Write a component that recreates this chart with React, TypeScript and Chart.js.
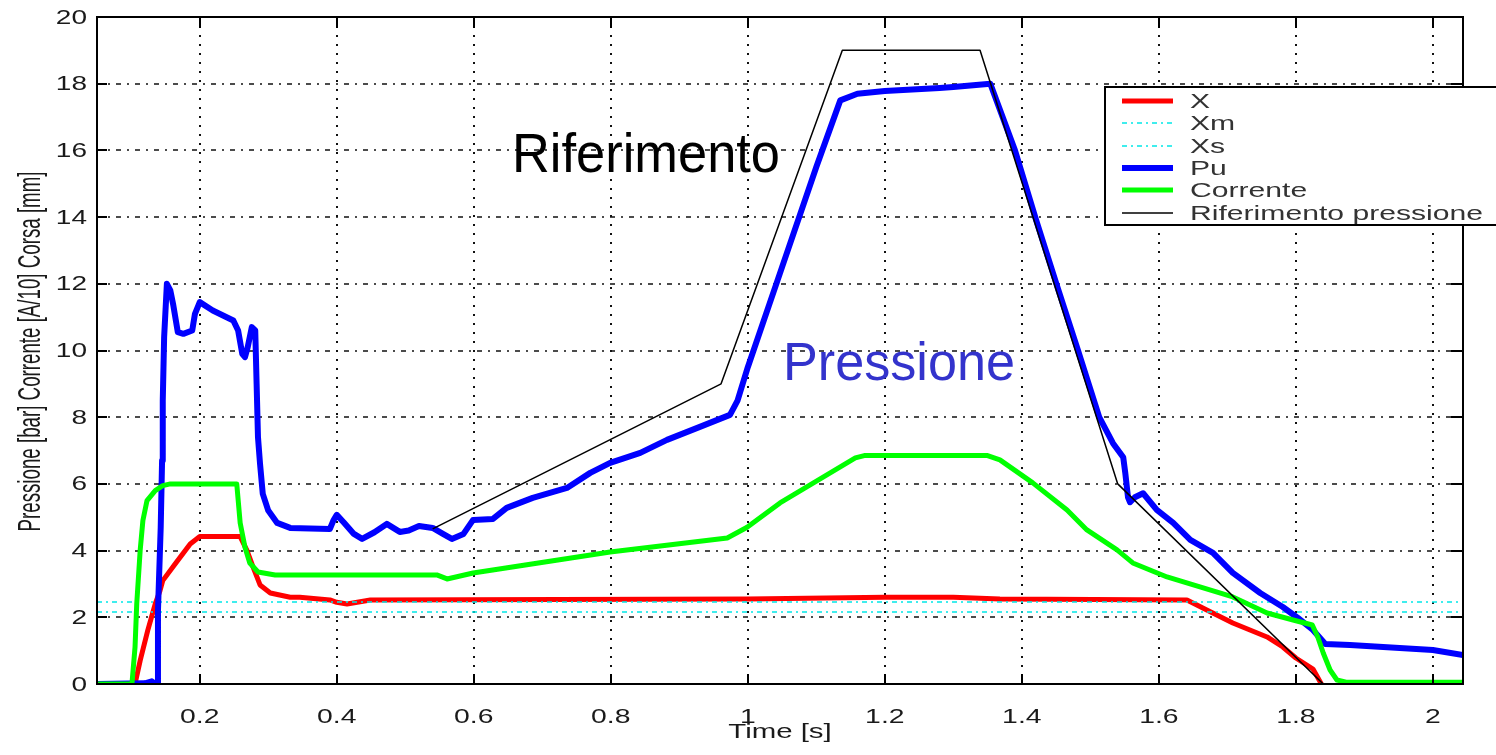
import React, { useEffect, useRef } from 'react';
import { Chart, registerables } from 'chart.js';

Chart.register(...registerables);

const FONT = '"Liberation Sans", Arial, Helvetica, sans-serif';

// Axis ranges and ticks
const X_MIN = 0.05;
const X_MAX = 2.044;
const Y_MIN = 0;
const Y_MAX = 20;
const xTickValues = [0.2, 0.4, 0.6, 0.8, 1, 1.2, 1.4, 1.6, 1.8, 2];
const yTickValues = [0, 2, 4, 6, 8, 10, 12, 14, 16, 18, 20];
const xTickLabels = ['0.2', '0.4', '0.6', '0.8', '1', '1.2', '1.4', '1.6', '1.8', '2'];
const yTickLabels = ['0', '2', '4', '6', '8', '10', '12', '14', '16', '18', '20'];

// X (corsa) - red
const redTime = [0.05, 0.1055, 0.113, 0.124, 0.135, 0.142, 0.146, 0.164, 0.186, 0.2, 0.259, 0.269, 0.278, 0.288, 0.303, 0.332, 0.346, 0.39, 0.4, 0.415, 0.449, 1.0, 1.2, 1.3, 1.368, 1.641, 1.67, 1.708, 1.758, 1.781, 1.8, 1.825, 1.84, 2.044];
const redValue = [0, 0, 0.7, 1.6, 2.4, 2.8, 3.1, 3.6, 4.2, 4.42, 4.42, 4.0, 3.5, 2.97, 2.73, 2.6, 2.6, 2.52, 2.45, 2.4, 2.52, 2.55, 2.6, 2.6, 2.55, 2.52, 2.22, 1.83, 1.41, 1.11, 0.78, 0.45, -0.1, -0.1];

// Xm, Xs - cyan limits
const limitTime = [0.05, 2.044];
const xmValue = [2.46, 2.46];
const xsValue = [2.16, 2.16];

// Pu (pressione) - blue
const puTime = [0.05, 0.12, 0.13, 0.135, 0.138, 0.139, 0.143, 0.145, 0.146, 0.148, 0.152, 0.157, 0.161, 0.168, 0.176, 0.189, 0.193, 0.2, 0.219, 0.249, 0.256, 0.262, 0.266, 0.27, 0.276, 0.281, 0.283, 0.285, 0.288, 0.292, 0.3, 0.313, 0.332, 0.39, 0.395, 0.4, 0.41, 0.425, 0.437, 0.455, 0.473, 0.492, 0.505, 0.52, 0.54, 0.555, 0.568, 0.585, 0.599, 0.628, 0.648, 0.686, 0.736, 0.77, 0.799, 0.843, 0.882, 0.93, 0.974, 0.985, 1.0, 1.05, 1.1, 1.135, 1.16, 1.2, 1.28, 1.3, 1.354, 1.39, 1.421, 1.452, 1.482, 1.513, 1.533, 1.548, 1.551, 1.555, 1.558, 1.565, 1.577, 1.597, 1.621, 1.646, 1.679, 1.708, 1.748, 1.781, 1.803, 1.825, 1.843, 1.879, 2.0, 2.044];
const puValue = [0, 0.02, 0.08, 0.0, -0.12, 2.2, 4.7, 6.7, 8.5, 10.4, 12.0, 11.8, 11.4, 10.55, 10.5, 10.6, 11.1, 11.45, 11.2, 10.9, 10.6, 9.9, 9.8, 10.1, 10.7, 10.6, 9.0, 7.4, 6.6, 5.7, 5.2, 4.83, 4.68, 4.65, 4.9, 5.07, 4.85, 4.5, 4.35, 4.55, 4.8, 4.56, 4.6, 4.74, 4.68, 4.5, 4.35, 4.5, 4.92, 4.95, 5.28, 5.58, 5.88, 6.33, 6.63, 6.93, 7.32, 7.71, 8.07, 8.5, 9.5, 12.5, 15.5, 17.5, 17.7, 17.78, 17.87, 17.9, 18.0, 16.0, 13.9, 11.9, 10.0, 8.0, 7.22, 6.8, 6.33, 5.6, 5.45, 5.6, 5.72, 5.22, 4.83, 4.32, 3.93, 3.33, 2.73, 2.31, 1.98, 1.62, 1.2, 1.17, 1.02, 0.87];

// Corrente - green
const greenTime = [0.05, 0.101, 0.1055, 0.108, 0.113, 0.117, 0.123, 0.135, 0.146, 0.157, 0.254, 0.259, 0.266, 0.273, 0.285, 0.31, 0.546, 0.561, 0.599, 0.799, 0.97, 0.999, 1.047, 1.157, 1.17, 1.35, 1.368, 1.416, 1.466, 1.495, 1.539, 1.562, 1.587, 1.612, 1.66, 1.708, 1.758, 1.796, 1.824, 1.832, 1.84, 1.85, 1.86, 1.875, 2.044];
const greenValue = [0, 0, 1.1, 2.4, 4.0, 4.9, 5.5, 5.8, 5.95, 6.0, 6.0, 4.83, 4.1, 3.63, 3.36, 3.27, 3.27, 3.15, 3.33, 3.96, 4.38, 4.7, 5.43, 6.78, 6.85, 6.85, 6.72, 6.03, 5.22, 4.62, 4.02, 3.63, 3.42, 3.21, 2.91, 2.61, 2.13, 1.92, 1.77, 1.41, 0.93, 0.42, 0.12, 0.05, 0.05];

// Riferimento pressione - black
const refTime = [0.54, 0.961, 1.138, 1.339, 1.54, 1.84, 2.044];
const refValue = [4.65, 9.0, 19.0, 19.0, 6.0, 0.0, 0.0];

const legendLabels = ['X', 'Xm', 'Xs', 'Pu', 'Corrente', 'Riferimento pressione'];
const annotationTop = 'Riferimento';
const annotationMid = 'Pressione';
const xTitle = 'Time [s]';
const yTitle = 'Pressione [bar] Corrente [A/10] Corsa [mm]';

const pts = (t: number[], v: number[]) => t.map((x, i) => ({ x, y: v[i] }));

function drawText(
  ctx: CanvasRenderingContext2D,
  text: string,
  x: number,
  y: number,
  font: string,
  color: string,
  align: 'left' | 'center' | 'right',
  sx: number,
  baseline: CanvasTextBaseline = 'middle'
) {
  ctx.save();
  ctx.font = font;
  ctx.fillStyle = color;
  ctx.textBaseline = baseline;
  ctx.textAlign = 'left';
  const w = ctx.measureText(text).width * sx;
  const left = align === 'left' ? x : align === 'center' ? x - w / 2 : x - w;
  ctx.translate(left, y);
  ctx.scale(sx, 1);
  ctx.fillText(text, 0, 0);
  ctx.restore();
}

function fitWidth(ctx: CanvasRenderingContext2D, text: string, font: string, target: number) {
  ctx.save();
  ctx.font = font;
  const w = ctx.measureText(text).width;
  ctx.restore();
  return target / w;
}

const matlabPlugin = {
  id: 'matlabLook',
  beforeDraw(chart: any) {
    const ctx = chart.ctx as CanvasRenderingContext2D;
    ctx.save();
    ctx.fillStyle = '#ffffff';
    ctx.fillRect(0, 0, chart.width, chart.height);
    ctx.restore();
  },
  beforeDatasetsDraw(chart: any) {
    const ctx = chart.ctx as CanvasRenderingContext2D;
    const { left, right, top, bottom } = chart.chartArea;
    const xs = chart.scales.x;
    const ys = chart.scales.y;
    ctx.save();
    ctx.strokeStyle = '#111';
    // horizontal grid (dash-dot look)
    ctx.lineWidth = 1.6;
    ctx.setLineDash([5, 6, 2, 6]);
    for (const v of yTickValues) {
      if (v === Y_MIN || v === Y_MAX) continue;
      const py = Math.round(ys.getPixelForValue(v));
      ctx.beginPath();
      ctx.moveTo(left, py);
      ctx.lineTo(right, py);
      ctx.stroke();
    }
    // vertical grid (dotted)
    ctx.lineWidth = 2;
    ctx.setLineDash([2, 7]);
    for (const v of xTickValues) {
      const px = Math.round(xs.getPixelForValue(v));
      ctx.beginPath();
      ctx.moveTo(px, top);
      ctx.lineTo(px, bottom);
      ctx.stroke();
    }
    ctx.restore();
  },
  afterDraw(chart: any) {
    const ctx = chart.ctx as CanvasRenderingContext2D;
    const { left, right, top, bottom } = chart.chartArea;
    const xs = chart.scales.x;
    const ys = chart.scales.y;

    ctx.save();
    ctx.strokeStyle = '#000';
    ctx.lineWidth = 2;
    ctx.setLineDash([]);
    ctx.strokeRect(left, top, right - left, bottom - top);
    // inward ticks
    ctx.beginPath();
    for (const v of yTickValues) {
      const py = Math.round(ys.getPixelForValue(v));
      ctx.moveTo(left, py);
      ctx.lineTo(left + 10, py);
      ctx.moveTo(right, py);
      ctx.lineTo(right - 12, py);
    }
    for (const v of xTickValues) {
      const px = Math.round(xs.getPixelForValue(v));
      ctx.moveTo(px, bottom);
      ctx.lineTo(px, bottom - 10);
      ctx.moveTo(px, top);
      ctx.lineTo(px, top + 11);
    }
    ctx.stroke();
    ctx.restore();

    // tick labels
    const tickFont = `20px ${FONT}`;
    yTickValues.forEach((v, i) => {
      drawText(ctx, yTickLabels[i], left - 10, ys.getPixelForValue(v) + 1, tickFont, '#1a1a1a', 'right', 1.4);
    });
    xTickValues.forEach((v, i) => {
      drawText(ctx, xTickLabels[i], xs.getPixelForValue(v), bottom + 33, `21px ${FONT}`, '#1a1a1a', 'center', 1.35);
    });

    // axis titles
    drawText(ctx, xTitle, 780, bottom + 48, `21px ${FONT}`, '#1a1a1a', 'center', 1.4);
    ctx.save();
    ctx.font = `20px ${FONT}`;
    const yLen = ctx.measureText(yTitle).width;
    ctx.translate(31, (top + bottom) / 2 + 1);
    ctx.rotate(-Math.PI / 2);
    ctx.scale(360 / yLen, 1.55);
    ctx.fillStyle = '#1a1a1a';
    ctx.textAlign = 'center';
    ctx.textBaseline = 'middle';
    ctx.fillText(yTitle, 0, 0);
    ctx.restore();

    // annotations
    const f1 = `56px ${FONT}`;
    drawText(ctx, annotationTop, 512, 172, f1, '#000000', 'left', fitWidth(ctx, annotationTop, f1, 268), 'alphabetic');
    const f2 = `53px ${FONT}`;
    drawText(ctx, annotationMid, 783, 380, f2, '#3333cc', 'left', fitWidth(ctx, annotationMid, f2, 232), 'alphabetic');

    // legend
    const lx = 1105;
    const ly = 87;
    const lb = 225;
    ctx.save();
    ctx.fillStyle = '#ffffff';
    ctx.fillRect(lx, ly, chart.width - lx + 5, lb - ly);
    ctx.strokeStyle = '#000';
    ctx.lineWidth = 2;
    ctx.strokeRect(lx, ly, chart.width - lx + 10, lb - ly);
    ctx.restore();
    const legFont = `20px ${FONT}`;
    const lsx = fitWidth(ctx, legendLabels[5], legFont, 293);
    const rowY = [101, 123, 146, 168, 190, 213];
    chart.data.datasets.forEach((ds: any, i: number) => {
      const y = rowY[i];
      ctx.save();
      ctx.strokeStyle = ds.borderColor;
      ctx.lineWidth = ds.borderWidth;
      ctx.setLineDash(ds.borderDash || []);
      ctx.beginPath();
      ctx.moveTo(1122, y);
      ctx.lineTo(1173, y);
      ctx.stroke();
      ctx.restore();
      drawText(ctx, legendLabels[i], 1190, y + 1, legFont, '#333333', 'left', lsx);
    });
  },
};

export default function App() {
  const canvasRef = useRef<HTMLCanvasElement | null>(null);

  useEffect(() => {
    if (!canvasRef.current) return;
    const common = { pointRadius: 0, fill: false, tension: 0, borderJoinStyle: 'round' as const };
    const chart = new Chart(canvasRef.current, {
      type: 'line',
      data: {
        datasets: [
          { ...common, label: legendLabels[0], data: pts(redTime, redValue), borderColor: '#ff0000', borderWidth: 5, order: 6 },
          { ...common, label: legendLabels[1], data: pts(limitTime, xmValue), borderColor: '#00e8e8', borderWidth: 1.5, borderDash: [5, 4, 2, 4], order: 5 },
          { ...common, label: legendLabels[2], data: pts(limitTime, xsValue), borderColor: '#00e8e8', borderWidth: 1.5, borderDash: [5, 4, 2, 4], order: 4 },
          { ...common, label: legendLabels[3], data: pts(puTime, puValue), borderColor: '#0000ff', borderWidth: 6, order: 3 },
          { ...common, label: legendLabels[4], data: pts(greenTime, greenValue), borderColor: '#00ff00', borderWidth: 5, order: 2 },
          { ...common, label: legendLabels[5], data: pts(refTime, refValue), borderColor: '#000000', borderWidth: 1.5, order: 1 },
        ],
      },
      options: {
        animation: false,
        responsive: false,
        devicePixelRatio: 1,
        layout: { padding: { left: 97, top: 17, right: 33, bottom: 71 } },
        plugins: { legend: { display: false }, tooltip: { enabled: false } },
        scales: {
          x: {
            type: 'linear',
            min: X_MIN,
            max: X_MAX,
            ticks: { display: false },
            grid: { display: false, drawTicks: false },
            border: { display: false },
          },
          y: {
            type: 'linear',
            min: Y_MIN,
            max: Y_MAX,
            ticks: { display: false },
            grid: { display: false, drawTicks: false },
            border: { display: false },
          },
        },
      },
      plugins: [matlabPlugin],
    });
    return () => chart.destroy();
  }, []);

  return (
    <div style={{ position: 'absolute', left: 0, top: 0, width: 1496, height: 755, background: '#fff' }}>
      <canvas ref={canvasRef} width={1496} height={755} style={{ display: 'block' }} />
    </div>
  );
}
